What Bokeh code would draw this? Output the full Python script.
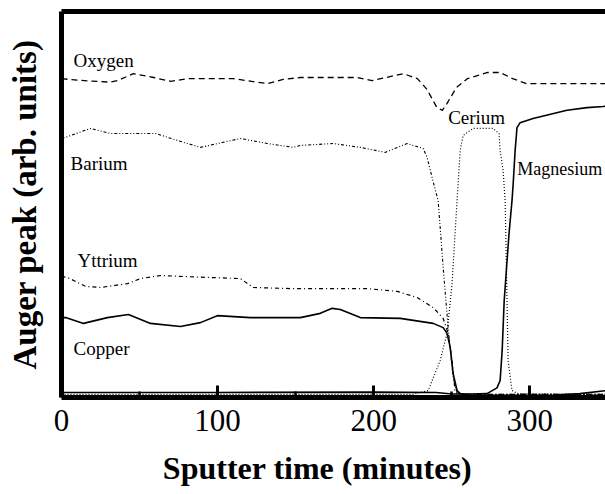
from bokeh.plotting import figure
from bokeh.models import Range1d, LinearAxis, FixedTicker, ColumnDataSource
from bokeh.core.properties import value
from bokeh.embed import file_html
from bokeh.resources import INLINE

# ---------------- data (sputter time in minutes, Auger peak in arb. units) ----------------
oxygen_t = [0, 10, 31, 36, 46, 59, 70, 81, 110, 132, 142, 153, 189, 199, 219, 228, 234, 240.5,
            244, 247, 253, 260, 273, 281, 289, 298, 349]
oxygen_v = [82.6, 82.2, 81.7, 82.1, 83.9, 82.9, 81.9, 82.6, 82.6, 81.3, 82.4, 82.9, 82.9, 82.1,
            83.9, 82.6, 79.9, 75.1, 74.4, 76.2, 80.3, 82.6, 84.2, 84.2, 82.6, 81.3, 81.3]

barium_t = [0, 2.6, 18.6, 31.4, 60.2, 74.2, 89, 114.6, 131.8, 148.5, 153, 174.1, 191.4, 207.4,
            221.4, 231.7, 234.2, 237.4, 241.3, 244.5, 247.7, 250.9, 253.4, 258, 349]
barium_v = [67.2, 67.4, 69.7, 68.4, 68.4, 66.6, 64.8, 67.1, 65.8, 64.8, 65.3, 65.8, 64.8, 63.5,
            65.8, 64.5, 62.2, 57.0, 51.0, 33.7, 18.1, 5.2, 1.3, 0.8, 0.8]

cerium_t = [0, 225, 234.9, 242.6, 247, 250.2, 253.4, 255.4, 257.3, 263.7, 276.5, 280.3, 281,
            282.9, 284.2, 285.4, 286.1, 288.6, 292.5, 349]
cerium_v = [0.8, 0.8, 1.8, 9.6, 16.6, 29.5, 51, 64, 67.9, 69.7, 69.7, 68.4, 64, 58.8, 51, 25.1,
            9.6, 1.8, 1.0, 0.8]

magnesium_t = [0, 100, 200, 240, 250, 262, 272.6, 279, 281, 282.3, 283.6, 286.7, 288.6, 289.3,
               290.6, 291.8, 293.8, 302.1, 323.8, 336.6, 346.9, 349]
magnesium_v = [1.3, 1.3, 1.4, 1.3, 0.9, 0.9, 1.0, 2.5, 4.4, 12.2, 25.1, 42.5, 51, 55, 64, 69.9,
               71.2, 72.3, 74.4, 75.1, 75.4, 75.5]

yttrium_t = [0, 3.8, 15.4, 25, 42.3, 50.6, 63.4, 80.6, 114.6, 122.9, 148.5, 195.8, 215, 227.8,
             238.1, 244.5, 247.7, 250.2, 252.2, 256, 349]
yttrium_v = [31.3, 31.1, 28.8, 28.5, 29.5, 30.8, 31.6, 31.3, 30.8, 28.5, 28.2, 28.2, 27.5, 25.9,
             23.3, 20.5, 16.6, 9.6, 1.3, 0.8, 0.8]

copper_t = [0, 2.6, 14.1, 29.4, 42.9, 57, 76.2, 89, 99.8, 121, 153, 165.8, 173.4, 178.6, 191.4,
            217, 238.1, 244.5, 247, 249, 250.9, 253.4, 255.4, 262, 315, 332, 349]
copper_v = [20.7, 20.7, 19.2, 20.7, 21.5, 19.2, 18.4, 19.4, 21.2, 20.7, 20.7, 21.8, 23.1, 22.8,
            20.7, 20.5, 19.2, 18.1, 16.6, 13.0, 6.2, 1.8, 1.0, 0.6, 0.6, 1.0, 1.8]

x_ticks = [0, 100, 200, 300]
x_minor_ticks = [50, 150, 250]

series_names = ["Oxygen", "Barium", "Yttrium", "Copper", "Cerium", "Magnesium"]

# ---------------- layout / style ----------------
label_pos_x = [7.7, 5.8, 10.2, 7.7, 247.7, 292.0]
label_pos_y = [87.3, 60.6, 35.5, 12.7, 72.5, 59.3]
label_sizes = ["19px", "19px", "19px", "19px", "19px", "18px"]

SERIF = "Liberation Serif"

p = figure(width=605, height=494, output_backend="svg", toolbar_location=None,
           x_range=Range1d(0, 348.5), y_range=Range1d(0, 100),
           min_border_left=61, min_border_right=0, min_border_top=11, min_border_bottom=97)
p.outline_line_color = None
p.grid.visible = False
p.background_fill_color = "white"
p.border_fill_color = "white"

# left axis: thick line with rotated title only
yax = p.yaxis[0]
yax.ticker = FixedTicker(ticks=[])
yax.axis_line_width = 5
yax.axis_line_color = "black"
yax.major_tick_line_color = None
yax.minor_tick_line_color = None
yax.major_label_standoff = 0
yax.axis_label = "Auger peak (arb. units)"
yax.axis_label_text_font = SERIF
yax.axis_label_text_font_style = "bold"
yax.axis_label_text_font_size = "33px"
yax.axis_label_text_color = "black"
yax.axis_label_standoff = 19

# bottom axis: inward ticks; title padded with trailing no-break spaces so that
# its visible text sits a little left of the frame centre, as in the reference
xax = p.xaxis[0]
xax.ticker = FixedTicker(ticks=x_ticks, minor_ticks=x_minor_ticks)
xax.axis_line_width = 5
xax.axis_line_color = "black"
xax.major_tick_in = 12
xax.major_tick_out = 0
xax.major_tick_line_width = 3
xax.major_tick_line_color = "black"
xax.minor_tick_in = 6
xax.minor_tick_out = 0
xax.minor_tick_line_width = 2.5
xax.minor_tick_line_color = "black"
xax.major_label_text_font = SERIF
xax.major_label_text_font_size = "31px"
xax.major_label_text_color = "black"
xax.major_label_standoff = 12
xax.axis_label = "Sputter time (minutes)" + "\u00a0" * 4
xax.axis_label_text_font = SERIF
xax.axis_label_text_font_style = "bold"
xax.axis_label_text_font_size = "32px"
xax.axis_label_text_color = "black"
xax.axis_label_standoff = 16

# top border
top = LinearAxis(ticker=FixedTicker(ticks=[]), axis_line_width=5, axis_line_color="black",
                 major_tick_line_color=None, minor_tick_line_color=None, major_label_standoff=0)
p.add_layout(top, "above")

# curves
p.line(oxygen_t, oxygen_v, line_color="black", line_width=1.3, line_dash="6 4")
p.line(barium_t, barium_v, line_color="black", line_width=1.1, line_dash="3 2 1 2 1 2")
p.line(yttrium_t, yttrium_v, line_color="black", line_width=1.2, line_dash="4 3 1 3")
p.line(cerium_t, cerium_v, line_color="black", line_width=1.2, line_dash="1 2")
p.line(copper_t, copper_v, line_color="black", line_width=1.6)
p.line(magnesium_t, magnesium_v, line_color="black", line_width=1.6)

src = ColumnDataSource(dict(x=label_pos_x, y=label_pos_y, name=series_names, size=label_sizes))
p.text(x="x", y="y", text="name", source=src, text_font=value(SERIF), text_font_size="size",
       text_baseline="alphabetic", text_align="left", text_color="black")

open("out.html", "w").write(file_html(p, INLINE))
